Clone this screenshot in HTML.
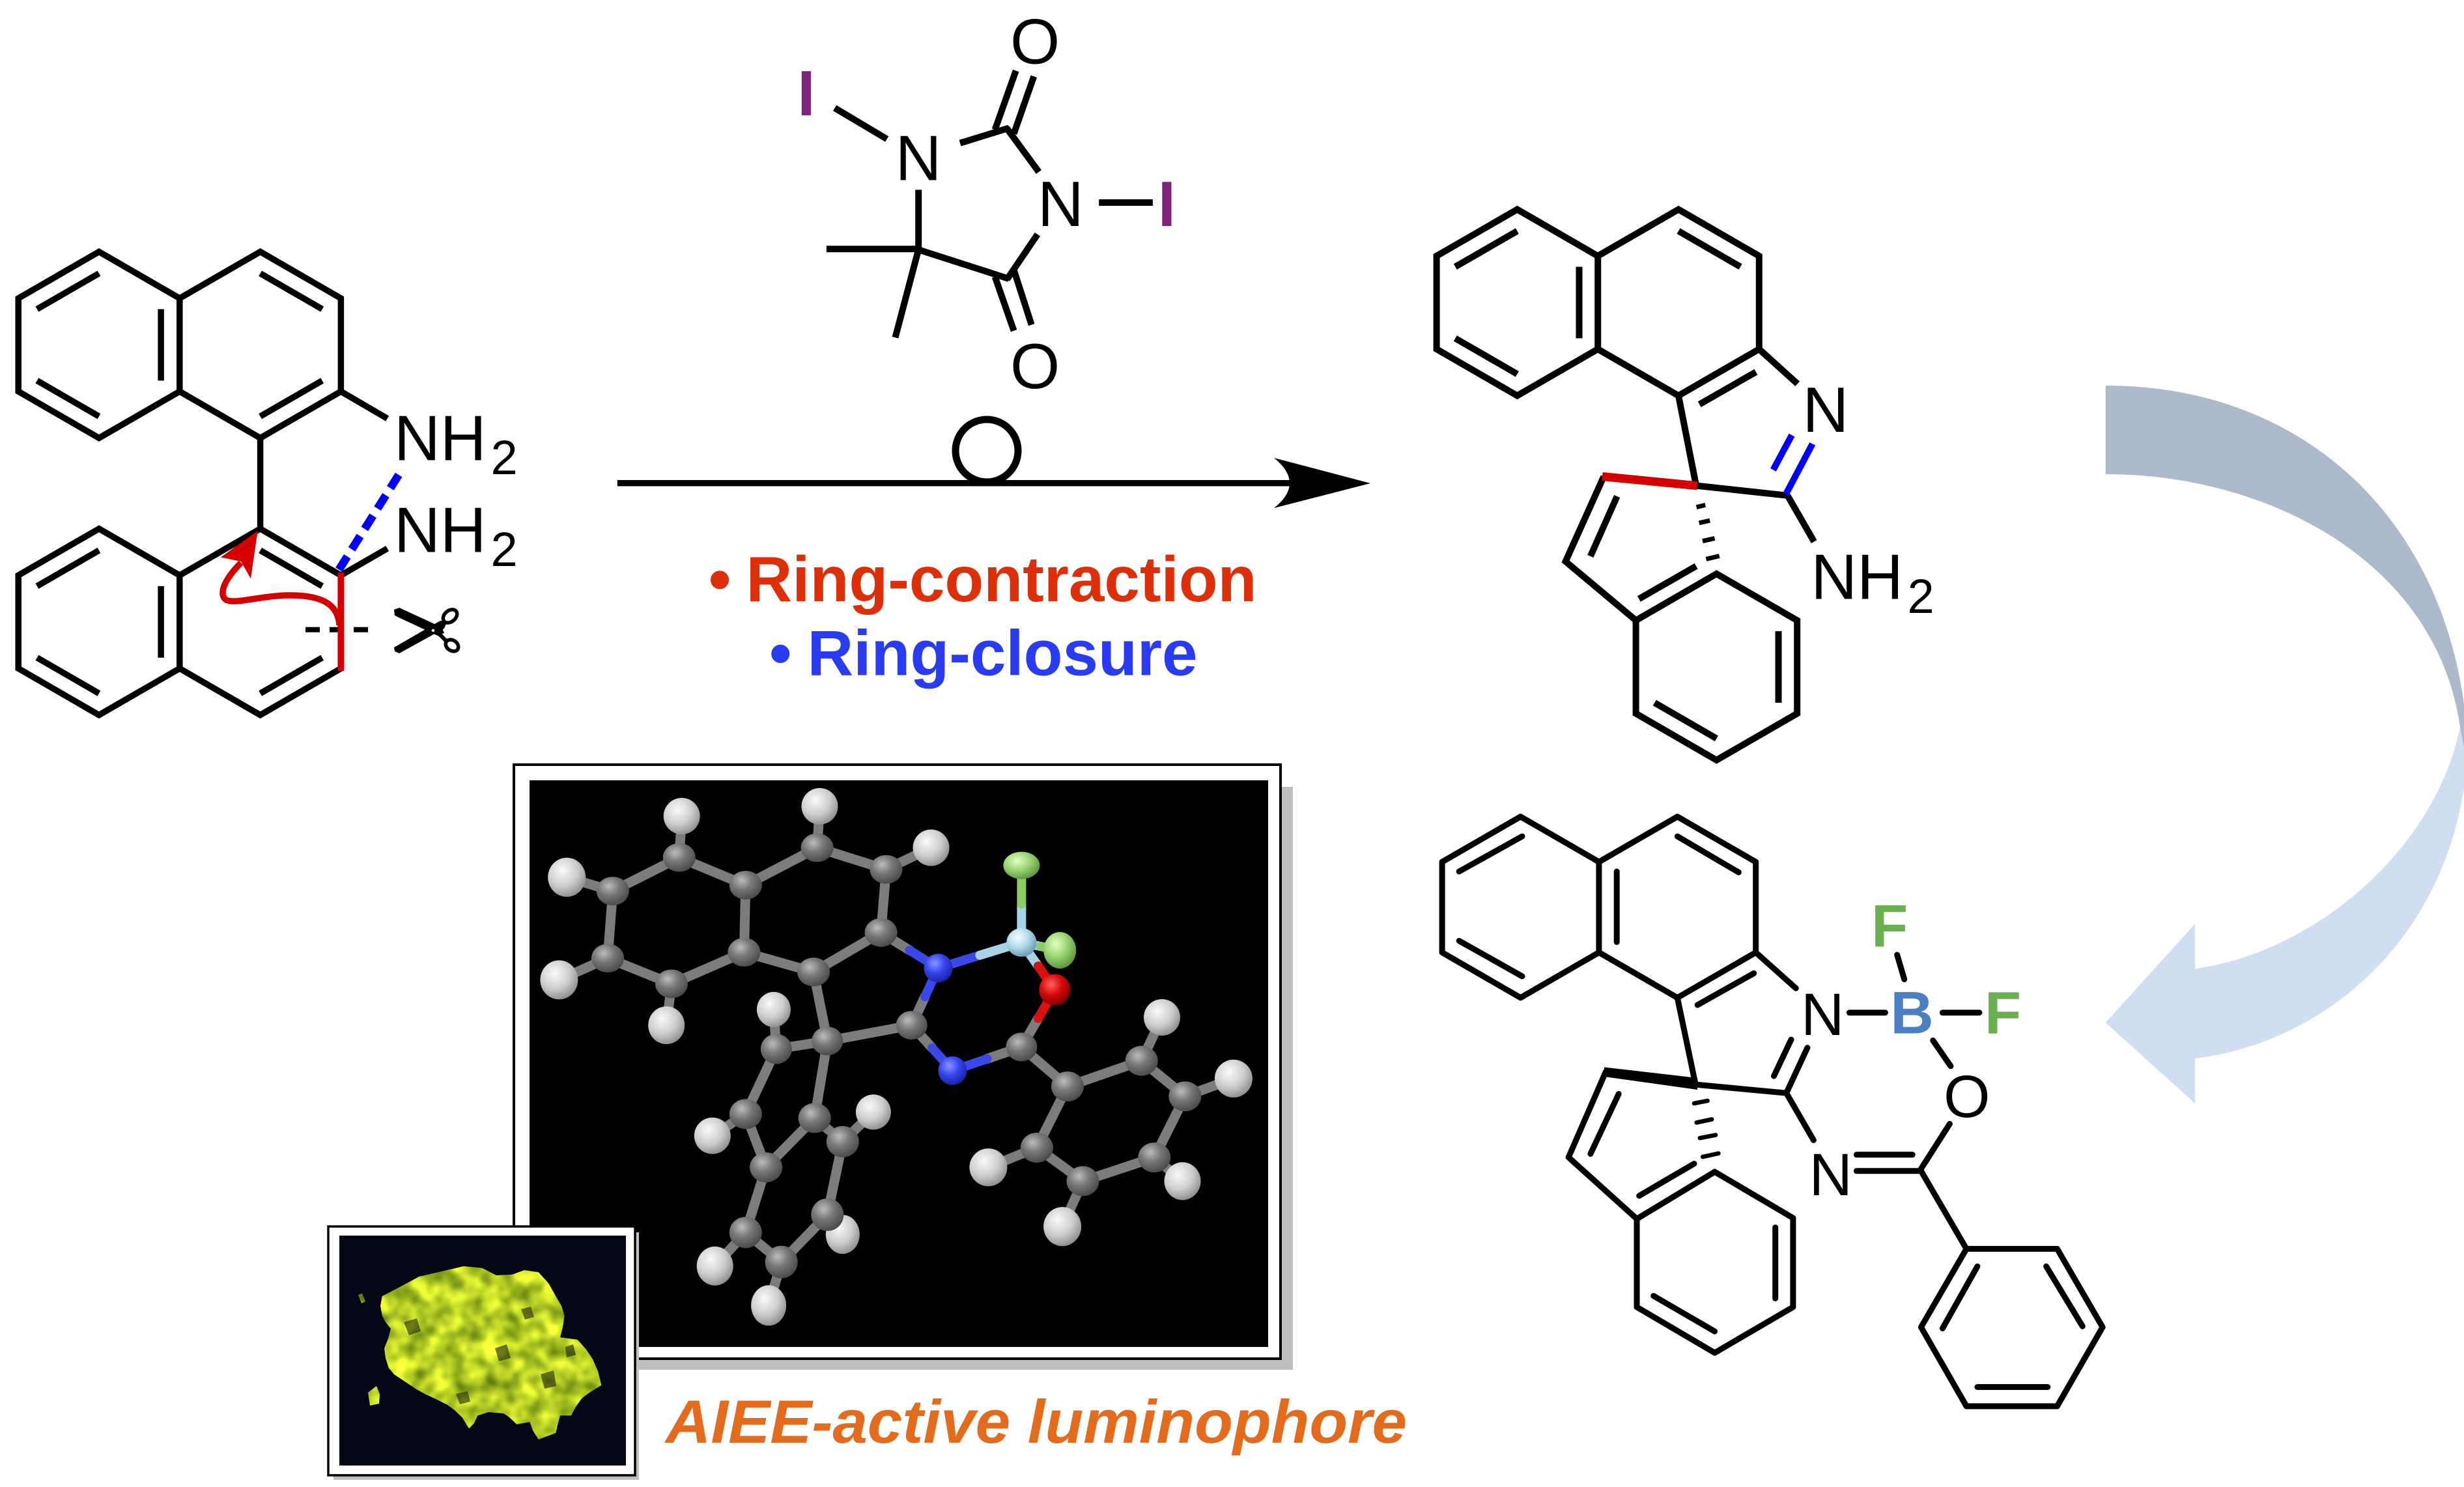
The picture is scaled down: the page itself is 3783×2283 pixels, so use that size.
<!DOCTYPE html>
<html><head><meta charset="utf-8"><style>
html,body{margin:0;padding:0;background:#fff;}
svg{display:block;}
text{font-family:"Liberation Sans",Arial,sans-serif;}
</style></head><body>
<svg xmlns="http://www.w3.org/2000/svg" width="3783" height="2283" viewBox="0 0 3783 2283">
<defs>
<radialGradient id="gC" cx="0.38" cy="0.33" r="0.72"><stop offset="0" stop-color="#bcbcbc"/><stop offset="0.45" stop-color="#777"/><stop offset="1" stop-color="#464646"/></radialGradient>
<radialGradient id="gH" cx="0.38" cy="0.33" r="0.72"><stop offset="0" stop-color="#fafafa"/><stop offset="0.55" stop-color="#cdcdcd"/><stop offset="1" stop-color="#8a8a8a"/></radialGradient>
<radialGradient id="gN" cx="0.38" cy="0.33" r="0.7"><stop offset="0" stop-color="#8a96ff"/><stop offset="0.5" stop-color="#3444ee"/><stop offset="1" stop-color="#1a22a0"/></radialGradient>
<radialGradient id="gO" cx="0.38" cy="0.33" r="0.7"><stop offset="0" stop-color="#ff6060"/><stop offset="0.5" stop-color="#d80808"/><stop offset="1" stop-color="#7a0000"/></radialGradient>
<radialGradient id="gF" cx="0.38" cy="0.33" r="0.7"><stop offset="0" stop-color="#e4ffc8"/><stop offset="0.5" stop-color="#9ad672"/><stop offset="1" stop-color="#5a9440"/></radialGradient>
<radialGradient id="gB" cx="0.38" cy="0.33" r="0.7"><stop offset="0" stop-color="#f4ffff"/><stop offset="0.5" stop-color="#b2dcec"/><stop offset="1" stop-color="#6a98ae"/></radialGradient>
<filter id="tex" x="0" y="0" width="1" height="1" color-interpolation-filters="sRGB">
  <feTurbulence type="fractalNoise" baseFrequency="0.035" numOctaves="2" seed="7" result="n"/>
  <feColorMatrix in="n" type="matrix" values="1.0 0 0 0 0.22  0.9 0 0 0 0.36  0.3 0 0 0 0.0  0 0 0 0 1" result="c"/>
  <feComposite in="c" in2="SourceGraphic" operator="in"/>
</filter>
</defs>

<!-- ================= Left binaphthyl diamine ================= -->
<g stroke="#000" stroke-width="9.5" fill="none" stroke-linejoin="miter" stroke-linecap="butt">
  <polygon points="152,386.5 275.8,458 275.8,601 152,672.5 28.2,601 28.2,458"/>
  <polyline points="275.8,458 399.6,386.5 523.4,458 523.4,601 399.6,672.5 275.8,601"/>
  <line x1="56.9" y1="474.6" x2="152" y2="419.7"/>
  <line x1="56.9" y1="584.4" x2="152" y2="639.3"/>
  <line x1="247.1" y1="474.6" x2="247.1" y2="584.4"/>
  <line x1="399.6" y1="419.7" x2="494.7" y2="474.6"/>
  <line x1="494.7" y1="584.4" x2="399.6" y2="639.3"/>
  <line x1="399.6" y1="672.5" x2="399.6" y2="811.8"/>
  <polygon points="152,811.8 275.8,883.3 275.8,1026.3 152,1097.8 28.2,1026.3 28.2,883.3"/>
  <polyline points="275.8,883.3 399.6,811.8 523.4,883.3"/>
  <polyline points="523.4,1026.3 399.6,1097.8 275.8,1026.3"/>
  <line x1="56.9" y1="899.9" x2="152" y2="845"/>
  <line x1="56.9" y1="1009.7" x2="152" y2="1064.6"/>
  <line x1="247.1" y1="899.9" x2="247.1" y2="1009.7"/>
  <line x1="399.6" y1="845" x2="494.7" y2="899.9"/>
  <line x1="494.7" y1="1009.7" x2="399.6" y2="1064.6"/>
  <line x1="523.4" y1="601" x2="594.7" y2="642.6"/>
  <line x1="523.4" y1="883.3" x2="594.7" y2="842.1"/>
</g>
<line x1="469" y1="966.8" x2="568" y2="966.8" stroke="#000" stroke-width="8" stroke-dasharray="22 15"/>
<line x1="523.4" y1="879" x2="523.4" y2="1030" stroke="#d40000" stroke-width="10"/>
<path d="M 521,960 C 519,925 490,913 440,914 C 395,915 352,931 344,918 C 336,905 352,882 370,864" fill="none" stroke="#d40000" stroke-width="9.5"/>
<polygon points="395.7,815 338.8,855.6 370,862 384.9,888.2" fill="#d40000"/>
<line x1="520.4" y1="874.6" x2="612.6" y2="728.3" stroke="#0000ff" stroke-width="12.5" stroke-dasharray="24 13"/>
<!-- scissors -->
<g fill="#000">
  <polygon points="605,936 613,933 678,963 682,972 672,976 606,945"/>
  <polygon points="606,1000 613,1003 682,965 686,955 676,953 605,994"/>
  <line x1="673" y1="972" x2="686" y2="985" stroke="#000" stroke-width="6"/>
  <line x1="676" y1="959" x2="684" y2="952" stroke="#000" stroke-width="6"/>
  <ellipse cx="691" cy="946" rx="12" ry="8.5" transform="rotate(-40 691 946)" fill="#fff" stroke="#000" stroke-width="5.5"/>
  <ellipse cx="694" cy="991" rx="10.5" ry="8" transform="rotate(35 694 991)" fill="#fff" stroke="#000" stroke-width="5.5"/>
  <circle cx="665" cy="968" r="2.2" fill="#fff"/>
</g>
<g font-size="98" fill="#000">
  <text x="605" y="706.6">NH</text><text x="753.5" y="728" font-size="74">2</text>
  <text x="605" y="847.5">NH</text><text x="753.5" y="869.2" font-size="74">2</text>
</g>

<!-- ================= DIH reagent ================= -->
<g stroke="#000" stroke-width="10" fill="none">
  <line x1="1281.6" y1="165.8" x2="1361.7" y2="213.5"/>
  <line x1="1474" y1="219.7" x2="1549" y2="196.5"/>
  <line x1="1527.6" y1="199" x2="1559.7" y2="108.6"/>
  <line x1="1556.6" y1="205.2" x2="1587.3" y2="117.3"/>
  <line x1="1545" y1="196" x2="1594.9" y2="264"/>
  <line x1="1687.2" y1="311" x2="1769.9" y2="311"/>
  <line x1="1592.9" y1="359.8" x2="1546" y2="429"/>
  <line x1="1527.6" y1="425" x2="1556.6" y2="507.8"/>
  <line x1="1556.6" y1="414.5" x2="1583.7" y2="498.7"/>
  <line x1="1549" y1="428" x2="1410.2" y2="383.4"/>
  <line x1="1410.2" y1="387" x2="1410.2" y2="291.4"/>
  <line x1="1268.9" y1="382.2" x2="1413" y2="382.2"/>
  <line x1="1410.2" y1="383" x2="1374.5" y2="518.2"/>
</g>
<g font-size="98" fill="#000">
  <text x="1224.3" y="177" fill="#7b2479" font-weight="bold">I</text>
  <text x="1374.6" y="276.5">N</text>
  <text x="1551" y="97.5">O</text>
  <text x="1593" y="347">N</text>
  <text x="1777.7" y="347" fill="#7b2479" font-weight="bold">I</text>
  <text x="1551" y="596">O</text>
</g>

<!-- ================= Reaction arrow ================= -->
<line x1="947.8" y1="741.7" x2="1985" y2="741.7" stroke="#000" stroke-width="9.5"/>
<path d="M 2104,742 L 1956,703 Q 2004,742 1956,780 Z" fill="#000"/>
<circle cx="1515" cy="692" r="48" fill="none" stroke="#000" stroke-width="11"/>
<g font-size="98" font-weight="bold">
  <text x="1105" y="923" fill="#dc300a" text-anchor="middle">•</text>
  <text x="1145.5" y="923" fill="#dc300a">Ring-contraction</text>
  <text x="1198.3" y="1036.7" fill="#2a3cf2" text-anchor="middle">•</text>
  <text x="1239.5" y="1036.7" fill="#2a3cf2">Ring-closure</text>
</g>

<!-- ================= Product 1 ================= -->
<g stroke="#000" stroke-width="10" fill="none" stroke-linejoin="miter">
  <polygon points="2329.4,321.5 2453.2,393 2453.2,536 2329.4,607.5 2205.6,536 2205.6,393"/>
  <polyline points="2453.2,393 2577,321.5 2700.8,393 2700.8,536 2577,607.5 2453.2,536"/>
  <line x1="2234.3" y1="409.6" x2="2329.4" y2="354.7"/>
  <line x1="2234.3" y1="519.4" x2="2329.4" y2="574.3"/>
  <line x1="2424.5" y1="409.6" x2="2424.5" y2="519.4"/>
  <line x1="2577" y1="354.7" x2="2672.1" y2="409.6"/>
  <line x1="2609.2" y1="620.8" x2="2695.9" y2="571.1"/>
  <line x1="2700.8" y1="536" x2="2759.7" y2="589.3"/>
  <line x1="2604.1" y1="745.6" x2="2577" y2="607.5"/>
  <line x1="2604.1" y1="745.6" x2="2744.4" y2="760.8"/>
  <line x1="2744.4" y1="760.8" x2="2785.2" y2="831.6"/>
  <polyline points="2462.2,731.7 2403.6,862 2511.6,952.5"/>
  <line x1="2482.7" y1="762" x2="2441.8" y2="854"/>
  <polygon points="2635.4,881 2759.2,952.5 2759.2,1095.5 2635.4,1167 2511.6,1095.5 2511.6,952.5"/>
  <line x1="2516.3" y1="919.5" x2="2604.1" y2="869.2"/>
  <line x1="2730.5" y1="969.1" x2="2730.5" y2="1078.9"/>
  <line x1="2540.3" y1="1078.9" x2="2635.4" y2="1133.8"/>
</g>
<g stroke="#000" stroke-width="7">
  <line x1="2604.6" y1="778.6" x2="2618.2" y2="775.4"/>
  <line x1="2608.6" y1="802.9" x2="2625.2" y2="799.1"/>
  <line x1="2614" y1="830.7" x2="2632.6" y2="826.5"/>
  <line x1="2619.4" y1="858.4" x2="2639.8" y2="853.6"/>
</g>
<g stroke="#0000ff" stroke-width="10">
  <line x1="2741.8" y1="758.9" x2="2782.7" y2="681.4"/>
  <line x1="2722.4" y1="721.4" x2="2751" y2="668"/>
</g>
<line x1="2460" y1="731.5" x2="2606" y2="745.8" stroke="#d40000" stroke-width="13"/>
<g font-size="98" fill="#000">
  <text x="2767.5" y="663.2">N</text>
  <text x="2780.4" y="919.5">NH</text><text x="2928.5" y="941" font-size="74">2</text>
</g>

<!-- ================= Curved arrow ================= -->
<path d="M 3790,1116 C 3790,1420 3580,1600 3370,1625 L 3370,1694 L 3232.8,1570 L 3370,1418.6 L 3370,1487.5 C 3560,1460 3740,1300 3777,1116 Z" fill="#cfdef0"/>
<path d="M 3232.8,592 C 3560,592 3790,830 3790,1185 L 3777,1116 C 3740,860 3480,728 3232.8,728 Z" fill="#adbacb"/>

<!-- ================= Product 2 (BF2) ================= -->
<g stroke="#000" stroke-width="9" fill="none" stroke-linejoin="round" stroke-linecap="round">
  <polygon points="2334.5,1253.8 2454.9,1323.3 2454.9,1462.3 2334.5,1531.8 2214.1,1462.3 2214.1,1323.3"/>
  <polyline points="2454.9,1323.3 2575.3,1253.8 2695.7,1323.3 2695.7,1462.3 2575.3,1531.8 2454.9,1462.3"/>
  <line x1="2240.2" y1="1338" x2="2337" y2="1284.1"/>
  <line x1="2240.2" y1="1444.4" x2="2337" y2="1498.9"/>
  <line x1="2482.2" y1="1338" x2="2482.2" y2="1446.3"/>
  <line x1="2575.4" y1="1284.1" x2="2669.3" y2="1339.3"/>
  <line x1="2606.2" y1="1542.9" x2="2692.7" y2="1494.3"/>
  <line x1="2695.7" y1="1462.3" x2="2757.3" y2="1517.3"/>
  <line x1="2774.9" y1="1608.6" x2="2742.6" y2="1678.2"/>
  <line x1="2750" y1="1596.1" x2="2723.5" y2="1652"/>
  <line x1="2742.6" y1="1678.2" x2="2603.2" y2="1665.1"/>
  <line x1="2603.2" y1="1665.1" x2="2575.3" y2="1531.8"/>
  <polyline points="2465.4,1645.4 2408.2,1776.8 2513,1871.4"/>
  <line x1="2485.2" y1="1679.5" x2="2441.9" y2="1771.5"/>
  <polygon points="2632.6,1799.1 2752.9,1870 2752.9,2006.7 2632.6,2077 2513,2006.7 2513,1871.4"/>
  <line x1="2516.7" y1="1835.9" x2="2601" y2="1786.6"/>
  <line x1="2725.7" y1="1884.5" x2="2725.7" y2="1993.5"/>
  <line x1="2538.7" y1="1989.6" x2="2632.6" y2="2044.1"/>
  <line x1="2742.6" y1="1678.2" x2="2784.4" y2="1750.5"/>
  <line x1="2850.4" y1="1772.8" x2="2936.2" y2="1772.8"/>
  <line x1="2850.4" y1="1797.8" x2="2949.4" y2="1797.8"/>
  <line x1="2949.4" y1="1794.5" x2="2993.4" y2="1725.5"/>
  <line x1="2994.9" y1="1636.8" x2="2967.7" y2="1597.4"/>
  <line x1="2839.4" y1="1554.7" x2="2894.4" y2="1554.7"/>
  <line x1="2982.4" y1="1554.7" x2="3038.9" y2="1554.7"/>
  <line x1="2923.7" y1="1503.5" x2="2912.7" y2="1466"/>
  <line x1="2949.4" y1="1797.8" x2="3019.1" y2="1917.4"/>
  <polygon points="3019.1,1917.4 3158.4,1917.4 3228.1,2037.6 3158.4,2159 3019.1,2159 2949.4,2037.6"/>
  <line x1="3035.9" y1="1944.3" x2="2982.4" y2="2039.5"/>
  <line x1="3141.6" y1="1944.3" x2="3197.3" y2="2036.2"/>
  <line x1="3035.9" y1="2129.5" x2="3143.8" y2="2129.5"/>
</g>
<polygon points="2463,1638.5 2606,1655 2606,1673 2463,1653" fill="#000"/>
<g stroke="#000" stroke-width="6.6" stroke-linecap="round">
  <line x1="2601" y1="1694" x2="2621.6" y2="1690"/>
  <line x1="2604.7" y1="1723.5" x2="2628.2" y2="1718.5"/>
  <line x1="2609.8" y1="1747.2" x2="2634" y2="1742.6"/>
  <line x1="2614.2" y1="1776.1" x2="2638.4" y2="1770.8"/>
</g>
<g font-size="92" fill="#000">
  <text x="2765" y="1588.9">N</text>
  <text x="2777.5" y="1835.2">N</text>
  <text x="2984" y="1715">O</text>
  <text x="2902.3" y="1586.3" fill="#4a7fc1" font-weight="bold">B</text>
  <text x="3047" y="1586.3" fill="#6aaf50" font-weight="bold">F</text>
  <text x="2873" y="1452.9" fill="#6aaf50" font-weight="bold">F</text>
</g>

<!-- ================= Crystal structure panel ================= -->
<rect x="805" y="1208" width="1180" height="895" fill="#bfbfbf"/>
<rect x="789" y="1174" width="1177" height="912" fill="#fff" stroke="#000" stroke-width="4"/>
<rect x="813" y="1198" width="1134" height="870" fill="#000"/>
<g stroke="#7c7c7c" stroke-width="15" stroke-linecap="round" fill="none" stroke-linejoin="round">
  <line x1="1042.8" y1="1316.6" x2="1046.7" y2="1253"/>
  <line x1="1254.6" y1="1301.5" x2="1258.5" y2="1237.9"/>
  <line x1="1360.5" y1="1334.8" x2="1429.5" y2="1301.5"/>
  <line x1="940.8" y1="1368.1" x2="870.2" y2="1346.9"/>
  <line x1="933" y1="1471.1" x2="858.4" y2="1504.4"/>
  <line x1="1031" y1="1510.5" x2="1023.2" y2="1574.1"/>
  <line x1="1191.8" y1="1610.5" x2="1187.9" y2="1549.9"/>
  <line x1="1144.8" y1="1710.4" x2="1093.8" y2="1743.8"/>
  <line x1="1293.8" y1="1752.8" x2="1340.9" y2="1707.4"/>
  <line x1="1270.3" y1="1864.9" x2="1293.8" y2="1895.2"/>
  <line x1="1199.7" y1="1937.6" x2="1180.1" y2="2004.3"/>
  <line x1="1144.8" y1="1892.2" x2="1097.7" y2="1943.7"/>
  <line x1="1752.7" y1="1628.6" x2="1784" y2="1562"/>
  <line x1="1819.4" y1="1683.2" x2="1893.9" y2="1655.9"/>
  <line x1="1772.3" y1="1777.1" x2="1815.5" y2="1813.4"/>
  <line x1="1662.5" y1="1813.4" x2="1631.1" y2="1883.1"/>
  <line x1="1591.9" y1="1762" x2="1517.4" y2="1792.2"/>
  <polygon points="1042.8,1316.6 940.8,1368.1 933,1471.1 1031,1510.5 1142.4,1462 1144.8,1359"/>
  <polyline points="1144.8,1359 1254.6,1301.5 1360.5,1334.8 1352.6,1431.7 1249.1,1492.3 1142.4,1462"/>
  <line x1="1270.3" y1="1598.3" x2="1249.1" y2="1492.3"/>
  <line x1="1399.7" y1="1574.1" x2="1270.3" y2="1598.3"/>
  <line x1="1270.3" y1="1598.3" x2="1191.8" y2="1610.5"/>
  <line x1="1270.3" y1="1598.3" x2="1250.7" y2="1716.5"/>
  <polyline points="1191.8,1610.5 1144.8,1710.4 1176.1,1792.2 1250.7,1716.5 1293.8,1752.8 1270.3,1864.9 1199.7,1937.6 1144.8,1892.2 1176.1,1792.2"/>
  <line x1="1568.4" y1="1607.4" x2="1639" y2="1668"/>
  <polygon points="1639,1668 1752.7,1628.6 1819.4,1683.2 1772.3,1777.1 1662.5,1813.4 1591.9,1762"/>
  <line x1="1352.6" y1="1431.7" x2="1396.5" y2="1459"/>
  <line x1="1593.9" y1="1563.5" x2="1568.4" y2="1607.4"/>
  <line x1="1568.4" y1="1607.4" x2="1515.5" y2="1625.6"/>
  <line x1="1431.1" y1="1609" x2="1399.7" y2="1574.1"/>
  <line x1="1399.7" y1="1574.1" x2="1420.1" y2="1530.2"/>
</g>
<g stroke-width="14" stroke-linecap="round">
  <line x1="1396.5" y1="1459" x2="1440.5" y2="1486.3" stroke="#3a48e8"/>
  <line x1="1440.5" y1="1486.3" x2="1504.4" y2="1466.6" stroke="#3a48e8"/>
  <line x1="1504.4" y1="1466.6" x2="1568.4" y2="1446.9" stroke="#a6d4e6"/>
  <line x1="1568.4" y1="1446.9" x2="1568.4" y2="1387.8" stroke="#a6d4e6"/>
  <line x1="1568.4" y1="1387.8" x2="1568.4" y2="1328.7" stroke="#8ccc66"/>
  <line x1="1568.4" y1="1446.9" x2="1597.8" y2="1453" stroke="#a6d4e6"/>
  <line x1="1597.8" y1="1453" x2="1627.2" y2="1459" stroke="#8ccc66"/>
  <line x1="1568.4" y1="1446.9" x2="1593.9" y2="1483.2" stroke="#a6d4e6"/>
  <line x1="1593.9" y1="1483.2" x2="1619.4" y2="1519.6" stroke="#d81010"/>
  <line x1="1619.4" y1="1519.6" x2="1593.9" y2="1563.5" stroke="#d81010"/>
  <line x1="1515.5" y1="1625.6" x2="1462.5" y2="1643.8" stroke="#3a48e8"/>
  <line x1="1462.5" y1="1643.8" x2="1431.1" y2="1609" stroke="#3a48e8"/>
  <line x1="1420.1" y1="1530.2" x2="1440.5" y2="1486.3" stroke="#3a48e8"/>
</g>
<g fill="url(#gH)">
  <ellipse cx="1046.7" cy="1253" rx="28" ry="28"/>
  <ellipse cx="1258.5" cy="1237.9" rx="28" ry="28"/>
  <ellipse cx="1429.5" cy="1301.5" rx="28" ry="28"/>
  <ellipse cx="870.2" cy="1346.9" rx="29" ry="30"/>
  <ellipse cx="858.4" cy="1504.4" rx="29" ry="30"/>
  <ellipse cx="1023.2" cy="1574.1" rx="28" ry="29"/>
  <ellipse cx="1187.9" cy="1549.9" rx="26" ry="27"/>
  <ellipse cx="1093.8" cy="1743.8" rx="28" ry="28"/>
  <ellipse cx="1340.9" cy="1707.4" rx="27" ry="27"/>
  <ellipse cx="1293.8" cy="1895.2" rx="26" ry="30"/>
  <ellipse cx="1180.1" cy="2004.3" rx="27" ry="31"/>
  <ellipse cx="1097.7" cy="1943.7" rx="28" ry="30"/>
  <ellipse cx="1784" cy="1562" rx="28" ry="28"/>
  <ellipse cx="1893.9" cy="1655.9" rx="29" ry="29"/>
  <ellipse cx="1815.5" cy="1813.4" rx="28" ry="29"/>
  <ellipse cx="1631.1" cy="1883.1" rx="29" ry="30"/>
  <ellipse cx="1517.4" cy="1792.2" rx="29" ry="29"/>
</g>
<g fill="url(#gC)">
  <ellipse cx="1042.8" cy="1316.6" rx="25" ry="22"/>
  <ellipse cx="940.8" cy="1368.1" rx="25" ry="22"/>
  <ellipse cx="933" cy="1471.1" rx="25" ry="22"/>
  <ellipse cx="1031" cy="1510.5" rx="25" ry="22"/>
  <ellipse cx="1142.4" cy="1462" rx="25" ry="22"/>
  <ellipse cx="1144.8" cy="1359" rx="25" ry="22"/>
  <ellipse cx="1254.6" cy="1301.5" rx="25" ry="22"/>
  <ellipse cx="1360.5" cy="1334.8" rx="25" ry="22"/>
  <ellipse cx="1352.6" cy="1431.7" rx="25" ry="22"/>
  <ellipse cx="1249.1" cy="1492.3" rx="25" ry="22"/>
  <ellipse cx="1399.7" cy="1574.1" rx="24" ry="22"/>
  <ellipse cx="1270.3" cy="1598.3" rx="24" ry="22"/>
  <ellipse cx="1568.4" cy="1607.4" rx="24" ry="22"/>
  <ellipse cx="1639" cy="1668" rx="25" ry="23"/>
  <ellipse cx="1752.7" cy="1628.6" rx="25" ry="23"/>
  <ellipse cx="1819.4" cy="1683.2" rx="25" ry="23"/>
  <ellipse cx="1772.3" cy="1777.1" rx="25" ry="23"/>
  <ellipse cx="1662.5" cy="1813.4" rx="25" ry="23"/>
  <ellipse cx="1591.9" cy="1762" rx="25" ry="23"/>
  <ellipse cx="1191.8" cy="1610.5" rx="24" ry="23"/>
  <ellipse cx="1144.8" cy="1710.4" rx="25" ry="23"/>
  <ellipse cx="1176.1" cy="1792.2" rx="25" ry="23"/>
  <ellipse cx="1250.7" cy="1716.5" rx="25" ry="23"/>
  <ellipse cx="1293.8" cy="1752.8" rx="25" ry="24"/>
  <ellipse cx="1270.3" cy="1864.9" rx="25" ry="25"/>
  <ellipse cx="1199.7" cy="1937.6" rx="25" ry="25"/>
  <ellipse cx="1144.8" cy="1892.2" rx="25" ry="24"/>
</g>
<ellipse cx="1440.5" cy="1486.3" rx="22" ry="22" fill="url(#gN)"/>
<ellipse cx="1462.5" cy="1643.8" rx="22" ry="22" fill="url(#gN)"/>
<ellipse cx="1568.4" cy="1446.9" rx="23" ry="22" fill="url(#gB)"/>
<ellipse cx="1568.4" cy="1328.7" rx="28" ry="21" fill="url(#gF)"/>
<ellipse cx="1627.2" cy="1459" rx="25" ry="28" fill="url(#gF)"/>
<ellipse cx="1619.4" cy="1519.6" rx="24" ry="24" fill="url(#gO)"/>

<!-- ================= Inset photo ================= -->
<rect x="512" y="1892" width="469" height="380" fill="#bfbfbf"/>
<rect x="504" y="1883" width="471" height="382" fill="#fff" stroke="#000" stroke-width="3.5"/>
<rect x="521" y="1897" width="440" height="353" fill="#040816"/>
<g filter="url(#tex)">
<path d="M 586.7,1990 L 610,1978 L 643.3,1960 L 665,1955 L 686.7,1950 L 712,1944 L 740,1946.7 L 762,1958 L 786.7,1956.7 L 805,1950 L 826.7,1953.3 L 842,1970 L 853.3,1990 L 862,2005 L 866.7,2020 L 864,2038 L 860,2053.3 L 886.7,2056.7 L 900,2072 L 910,2086.7 L 918,2105 L 923.3,2126.7 L 905,2138 L 893.3,2146.7 L 884,2160 L 876.7,2173.3 L 860,2173.3 L 856,2188 L 853.3,2200 L 826.7,2210 L 818,2196 L 813.3,2183.3 L 793.3,2186.7 L 782,2176 L 773.3,2170 L 750,2168 L 733.3,2173.3 L 728,2185 L 720,2193.3 L 710,2176.7 L 698,2165 L 686.7,2156.7 L 666.7,2146.7 L 652,2140 L 640,2133.3 L 620,2120 L 605,2110 L 596.7,2100 L 592,2085 L 590,2070 L 596,2055 L 600,2040 L 592,2030 L 586.7,2020 L 584,2005 Z" fill="#fff"/>
<path d="M 565,2138 L 578,2128 L 583,2140 L 582,2155 L 568,2158 Z" fill="#fff"/>
<path d="M 550,1988 L 556,1986 L 561,1998 L 555,2001 Z" fill="#fff"/>
</g>
<g fill="#1a2008" opacity="0.6">
  <polygon points="620,2030 640,2024 646,2044 628,2050"/>
  <polygon points="760,2070 778,2064 784,2085 766,2090"/>
  <polygon points="830,2110 850,2104 854,2128 836,2132"/>
  <polygon points="800,2010 815,2006 820,2022 806,2026"/>
  <polygon points="700,2140 718,2136 722,2152 706,2156"/>
  <polygon points="868,2068 880,2064 884,2080 870,2084"/>
</g>

<!-- AIEE text -->
<text x="1022" y="2215" font-size="94" font-weight="bold" font-style="italic" fill="#e36b1d" textLength="1138" lengthAdjust="spacingAndGlyphs">AIEE-active luminophore</text>
</svg>
</body></html>
